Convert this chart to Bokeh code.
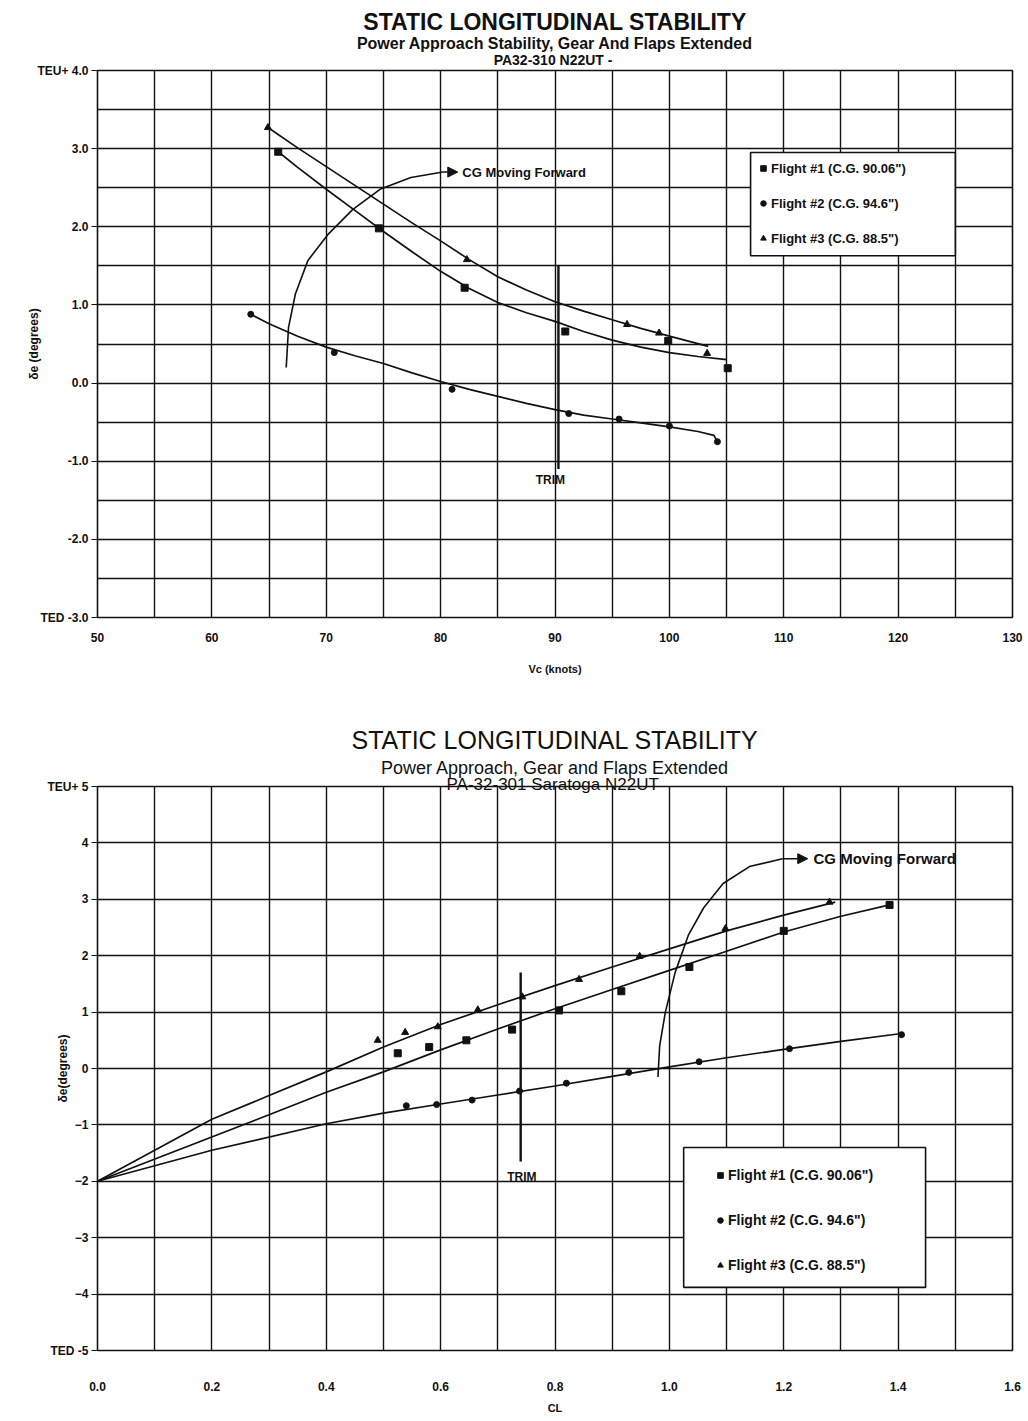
from bokeh.plotting import figure
from bokeh.layouts import column
from bokeh.models import (FixedTicker, NumeralTickFormatter, Title, Legend,
                          LegendItem, BoxAnnotation, Arrow, NormalHead)
from bokeh.core.properties import value
from bokeh.embed import file_html
from bokeh.resources import INLINE

FONT = "Liberation Sans"
INK = "#111111"

# ---------------- upper chart: elevator angle vs calibrated airspeed ----------------
vc_flight1 = [65.8, 74.6, 82.1, 90.9, 99.9, 105.1]
de_flight1 = [2.96, 1.98, 1.22, 0.66, 0.54, 0.19]
vc_flight2 = [63.4, 70.7, 81.0, 91.2, 95.6, 100.0, 104.2]
de_flight2 = [0.88, 0.39, -0.08, -0.39, -0.46, -0.55, -0.75]
vc_flight3 = [64.9, 82.3, 96.3, 99.1, 103.3]
de_flight3 = [3.27, 1.58, 0.75, 0.64, 0.38]

# faired curves through each flight
vc_fair1 = [65.8, 67.5, 70, 72.5, 75, 77.5, 80, 82.5, 85, 87.5, 90, 92.5, 95, 97.5, 100, 102.5, 105]
de_fair1 = [2.96, 2.76, 2.48, 2.21, 1.94, 1.68, 1.43, 1.21, 1.03, 0.90, 0.79, 0.66, 0.55, 0.46, 0.39, 0.34, 0.30]
vc_fair2 = [63.4, 65, 67.5, 70, 72.5, 75, 77.5, 80, 82.5, 85, 87.5, 90, 92.5, 95, 97.5, 100, 102.5, 103.9, 104.2]
de_fair2 = [0.88, 0.76, 0.60, 0.46, 0.35, 0.25, 0.13, 0.02, -0.08, -0.17, -0.26, -0.34, -0.41, -0.46, -0.51, -0.56, -0.62, -0.67, -0.75]
vc_fair3 = [64.9, 67.5, 70, 72.5, 75, 77.5, 80, 82.5, 85, 87.5, 90, 92.5, 95, 97.5, 100, 103.4]
de_fair3 = [3.27, 3.01, 2.77, 2.53, 2.29, 2.05, 1.82, 1.58, 1.36, 1.19, 1.04, 0.92, 0.81, 0.70, 0.60, 0.47]

# annotations
cg_arc_vc = [66.5, 66.6, 66.7, 67.3, 68.4, 70.2, 72.3, 74.7, 77.4, 80.2]
cg_arc_de = [0.20, 0.45, 0.71, 1.14, 1.57, 1.91, 2.22, 2.48, 2.63, 2.70]
cg_arrow_vc = [80.2, 81.5]
cg_arrow_de = [2.70, 2.70]
cg_note_vc, cg_note_de = 81.9, 2.69
trim_vc = [90.3, 90.3]
trim_de = [1.5, -1.1]
trim_note_vc, trim_note_de = 89.6, -1.24

vc_ticks = [50, 60, 70, 80, 90, 100, 110, 120, 130]
vc_grid = list(range(50, 131, 5))
de_ticks = [-3, -2, -1, 0, 1, 2, 3, 4]
de_grid = [-3 + 0.5 * i for i in range(15)]

legend_labels = ['Flight #1 (C.G. 90.06")', 'Flight #2 (C.G. 94.6")', 'Flight #3 (C.G. 88.5")']

# ---------------- lower chart: elevator angle vs lift coefficient ----------------
cl_flight1 = [0.525, 0.58, 0.645, 0.725, 0.807, 0.916, 1.035, 1.20, 1.385]
cl_de_flight1 = [0.27, 0.38, 0.50, 0.69, 1.03, 1.37, 1.80, 2.44, 2.90]
cl_flight2 = [0.54, 0.593, 0.655, 0.738, 0.82, 0.929, 1.052, 1.21, 1.406]
cl_de_flight2 = [-0.66, -0.64, -0.56, -0.40, -0.26, -0.07, 0.12, 0.35, 0.60]
cl_flight3 = [0.49, 0.538, 0.595, 0.665, 0.743, 0.842, 0.948, 1.098, 1.28]
cl_de_flight3 = [0.50, 0.64, 0.74, 1.04, 1.27, 1.58, 1.99, 2.48, 2.95]

cl_fair1 = [0.0, 0.3, 0.4, 0.5, 0.6, 0.7, 0.8, 0.9, 1.0, 1.1, 1.2, 1.3, 1.385]
cl_de_fair1 = [-2.0, -0.82, -0.42, -0.06, 0.33, 0.70, 1.06, 1.40, 1.74, 2.08, 2.42, 2.70, 2.90]
cl_fair2 = [0.0, 0.2, 0.4, 0.5, 0.6, 0.7, 0.8, 0.9, 1.0, 1.1, 1.2, 1.3, 1.406]
cl_de_fair2 = [-2.0, -1.45, -0.98, -0.79, -0.63, -0.47, -0.31, -0.14, 0.03, 0.19, 0.34, 0.48, 0.62]
cl_fair3 = [0.0, 0.2, 0.3, 0.4, 0.5, 0.6, 0.7, 0.8, 0.9, 1.0, 1.1, 1.2, 1.29]
cl_de_fair3 = [-2.0, -0.90, -0.48, -0.06, 0.38, 0.78, 1.13, 1.47, 1.80, 2.12, 2.44, 2.72, 2.95]

cl_cg_arc = [0.98, 0.983, 0.993, 1.01, 1.033, 1.06, 1.094, 1.14, 1.198]
cl_cg_arc_de = [-0.15, 0.40, 1.00, 1.70, 2.36, 2.85, 3.28, 3.58, 3.72]
cl_cg_arrow = [1.198, 1.242]
cl_cg_arrow_de = [3.72, 3.72]
cl_cg_note, cl_cg_note_de = 1.252, 3.72
cl_trim = [0.74, 0.74]
cl_trim_de = [1.7, -1.65]
cl_trim_note, cl_trim_note_de = 0.742, -1.92

cl_ticks = [0.0, 0.2, 0.4, 0.6, 0.8, 1.0, 1.2, 1.4, 1.6]
cl_grid = [i / 10 for i in range(17)]
cl_de_ticks = [-5, -4, -3, -2, -1, 0, 1, 2, 3, 4, 5]

MARKERS = ["square", "circle", "triangle"]
SIZES = [7, 6, 7]


def style_axes(p, xticks, xgrid, yticks, ygrid, size):
    p.outline_line_color = INK
    p.outline_line_width = 1.6
    p.background_fill_color = "white"
    p.border_fill_color = "white"
    for ax in (p.xaxis[0], p.yaxis[0]):
        ax.axis_line_color = None
        ax.minor_tick_line_color = None
        ax.major_tick_line_color = INK
        ax.major_tick_line_width = 1.2
        ax.major_label_text_font = FONT
        ax.major_label_text_font_size = size
        ax.major_label_text_font_style = "bold"
        ax.major_label_text_color = INK
        ax.axis_label_text_font = FONT
        ax.axis_label_text_font_style = "bold"
        ax.axis_label_text_color = INK
    p.xaxis.axis_label_text_font_size = "11px"
    p.yaxis.axis_label_text_font_size = "12px"
    p.xaxis.ticker = FixedTicker(ticks=xticks)
    p.yaxis.ticker = FixedTicker(ticks=yticks)
    p.xaxis.major_tick_out = 0
    p.xaxis.major_tick_in = 0
    p.yaxis.major_tick_out = 6
    p.yaxis.major_tick_in = 0
    p.yaxis.major_label_standoff = 3
    p.xgrid.ticker = FixedTicker(ticks=xgrid)
    p.ygrid.ticker = FixedTicker(ticks=ygrid)
    for g in (p.xgrid[0], p.ygrid[0]):
        g.grid_line_color = INK
        g.grid_line_width = 1.4
        g.grid_line_alpha = 1.0


def draw_flights(p, points, fairs):
    rends = []
    for (x, y), (fx, fy), m, s in zip(points, fairs, MARKERS, SIZES):
        p.line(fx, fy, line_color=INK, line_width=1.7)
        rends.append(p.scatter(x, y, marker=m, size=s, fill_color=INK, line_color=INK))
    return rends


def titles(p, lines):
    # lines listed from the frame outwards
    for text, size, style, standoff in lines:
        p.add_layout(Title(text=text, align="center", text_font=FONT, text_font_size=size,
                           text_font_style=style, text_color=INK, standoff=standoff), "above")


def note(p, x, y, text, size, align="left"):
    p.text(x=[x], y=[y], text=[text], text_font=value(FONT), text_font_size=size,
           text_font_style="bold", text_color=INK, text_align=align, text_baseline="middle")


def cg_and_trim(p, arc, arrow, cg_note, trim, trim_note, size):
    p.line(arc[0], arc[1], line_color=INK, line_width=1.6)
    p.add_layout(Arrow(end=NormalHead(size=10, fill_color=INK, line_color=INK),
                       x_start=arrow[0][0], y_start=arrow[1][0],
                       x_end=arrow[0][1], y_end=arrow[1][1], line_color=INK, line_width=1.5))
    note(p, cg_note[0], cg_note[1], "CG Moving Forward", size)
    p.line(trim[0], trim[1], line_color=INK, line_width=2.4)
    note(p, trim_note[0], trim_note[1], "TRIM", "12px", align="center")


def legend_box(p, rends, box, loc, spacing, size):
    p.add_layout(BoxAnnotation(left=box[0], right=box[1], top=box[2], bottom=box[3],
                               fill_color="white", fill_alpha=1.0, line_color=INK,
                               line_width=1.6, line_alpha=1.0))
    p.add_layout(Legend(items=[LegendItem(label=t, renderers=[r]) for t, r in zip(legend_labels, rends)],
                        location=loc, padding=0, margin=0, spacing=spacing,
                        label_height=20, glyph_height=20, glyph_width=14, label_standoff=1,
                        border_line_alpha=0, background_fill_alpha=0,
                        label_text_font=FONT, label_text_font_size=size,
                        label_text_font_style="bold", label_text_color=INK))


# ---------------- figure 1 ----------------
p1 = figure(width=1028, height=700, x_range=(50, 130), y_range=(-3, 4),
            output_backend="svg", toolbar_location=None,
            min_border_left=97, min_border_right=16, min_border_top=70, min_border_bottom=83)
style_axes(p1, vc_ticks, vc_grid, de_ticks, de_grid, "12px")
p1.yaxis.formatter = NumeralTickFormatter(format="0.0")
p1.yaxis.major_label_overrides = {4: "TEU+ 4.0", -3: "TED -3.0"}
p1.xaxis.major_label_standoff = 15
p1.xaxis.axis_label = "Vc (knots)"
p1.xaxis.axis_label_standoff = 18
p1.yaxis.axis_label = "δe (degrees)"
p1.yaxis.axis_label_standoff = -7

rends1 = draw_flights(p1, [(vc_flight1, de_flight1), (vc_flight2, de_flight2), (vc_flight3, de_flight3)],
                      [(vc_fair1, de_fair1), (vc_fair2, de_fair2), (vc_fair3, de_fair3)])
cg_and_trim(p1, (cg_arc_vc, cg_arc_de), (cg_arrow_vc, cg_arrow_de), (cg_note_vc, cg_note_de),
            (trim_vc, trim_de), (trim_note_vc, trim_note_de), "13px")
legend_box(p1, rends1, (107.1, 125.0, 2.95, 1.63), (659, 369), 15, "13px")
titles(p1, [("PA32-310  N22UT -", "14px", "bold", 6),
            ("Power Approach Stability, Gear And Flaps Extended", "16px", "bold", -10),
            ("STATIC LONGITUDINAL STABILITY", "23px", "bold", 6)])

# ---------------- figure 2 ----------------
p2 = figure(width=1028, height=721, x_range=(0, 1.6), y_range=(-5, 5),
            output_backend="svg", toolbar_location=None,
            min_border_left=97, min_border_right=16, min_border_top=86, min_border_bottom=71)
style_axes(p2, cl_ticks, cl_grid, cl_de_ticks, cl_de_ticks, "12px")
p2.xaxis.formatter = NumeralTickFormatter(format="0.0")
p2.yaxis.major_label_overrides = {5: "TEU+ 5", -5: "TED -5"}
p2.xaxis.major_label_standoff = 31
p2.xaxis.axis_label = "CL"
p2.xaxis.axis_label_standoff = 8
p2.yaxis.axis_label = "δe(degrees)"
p2.yaxis.axis_label_standoff = -26

rends2 = draw_flights(p2, [(cl_flight1, cl_de_flight1), (cl_flight2, cl_de_flight2), (cl_flight3, cl_de_flight3)],
                      [(cl_fair1, cl_de_fair1), (cl_fair2, cl_de_fair2), (cl_fair3, cl_de_fair3)])
cg_and_trim(p2, (cl_cg_arc, cl_cg_arc_de), (cl_cg_arrow, cl_cg_arrow_de), (cl_cg_note, cl_cg_note_de),
            (cl_trim, cl_trim_de), (cl_trim_note, cl_trim_note_de), "15px")
legend_box(p2, rends2, (1.025, 1.448, -1.40, -3.88), (616, 75), 25, "14px")
titles(p2, [("PA-32-301 Saratoga  N22UT", "17px", "normal", -15),
            ("Power Approach, Gear and Flaps Extended", "18px", "normal", 5),
            ("STATIC LONGITUDINAL STABILITY", "25px", "normal", 0)])

layout = column(p1, p2, spacing=0)
open("out.html", "w").write(file_html(layout, INLINE))
